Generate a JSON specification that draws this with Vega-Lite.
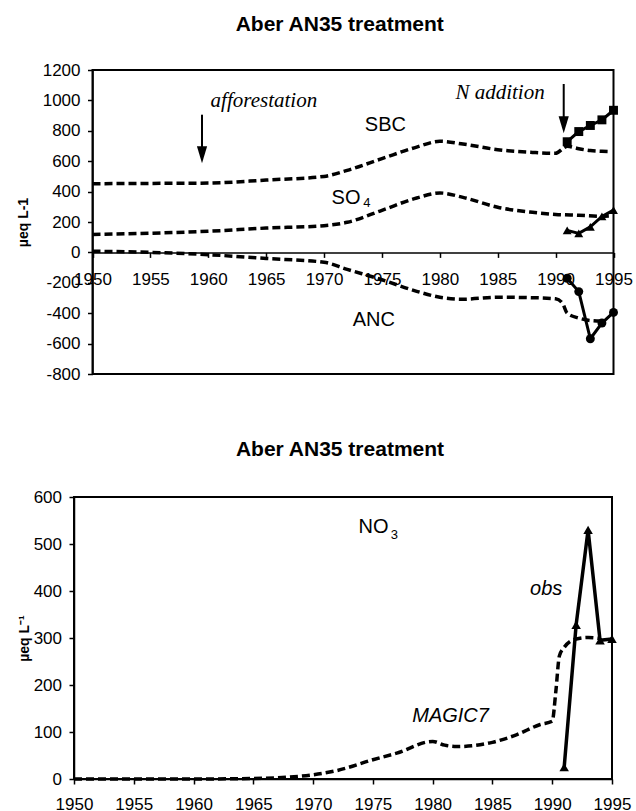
{
  "$schema": "https://vega.github.io/schema/vega-lite/v6.json",
  "background": "white",
  "padding": {"left": 16, "top": 14, "right": 4, "bottom": 4},
  "config": {
    "view": {"stroke": "black", "strokeWidth": 2},
    "axis": {
      "grid": false,
      "domainColor": "black",
      "domainWidth": 1.5,
      "tickColor": "black",
      "tickWidth": 1.5,
      "tickSize": 5,
      "labelColor": "black",
      "labelFont": "Liberation Sans",
      "labelFontSize": 17,
      "labelFlush": false,
      "labelOverlap": false,
      "titleFont": "Liberation Sans",
      "titleFontSize": 14,
      "titleFontWeight": "bold",
      "titleColor": "black"
    },
    "title": {"font": "Liberation Sans", "fontSize": 21, "fontWeight": "bold", "color": "black", "anchor": "middle"}
  },
  "datasets": {
    "top_model": [
      {"series": "SBC", "year": 1950, "value": 452}, {"series": "SBC", "year": 1955, "value": 454},
      {"series": "SBC", "year": 1960, "value": 456}, {"series": "SBC", "year": 1965, "value": 476},
      {"series": "SBC", "year": 1970, "value": 500}, {"series": "SBC", "year": 1972, "value": 540},
      {"series": "SBC", "year": 1975, "value": 617}, {"series": "SBC", "year": 1978, "value": 693},
      {"series": "SBC", "year": 1980, "value": 731}, {"series": "SBC", "year": 1982, "value": 713},
      {"series": "SBC", "year": 1985, "value": 676}, {"series": "SBC", "year": 1988, "value": 658},
      {"series": "SBC", "year": 1990, "value": 652}, {"series": "SBC", "year": 1990.7, "value": 687},
      {"series": "SBC", "year": 1991, "value": 698}, {"series": "SBC", "year": 1992, "value": 682},
      {"series": "SBC", "year": 1993, "value": 670}, {"series": "SBC", "year": 1994, "value": 665},
      {"series": "SBC", "year": 1994.7, "value": 663},
      {"series": "SO4", "year": 1950, "value": 118}, {"series": "SO4", "year": 1955, "value": 126},
      {"series": "SO4", "year": 1960, "value": 139}, {"series": "SO4", "year": 1965, "value": 160},
      {"series": "SO4", "year": 1970, "value": 176}, {"series": "SO4", "year": 1972, "value": 198},
      {"series": "SO4", "year": 1975, "value": 277}, {"series": "SO4", "year": 1978, "value": 358},
      {"series": "SO4", "year": 1980, "value": 391}, {"series": "SO4", "year": 1982, "value": 362},
      {"series": "SO4", "year": 1985, "value": 297}, {"series": "SO4", "year": 1988, "value": 264},
      {"series": "SO4", "year": 1990, "value": 250}, {"series": "SO4", "year": 1992, "value": 244},
      {"series": "SO4", "year": 1994, "value": 238}, {"series": "SO4", "year": 1994.6, "value": 240},
      {"series": "ANC", "year": 1950, "value": 8}, {"series": "ANC", "year": 1955, "value": 0},
      {"series": "ANC", "year": 1960, "value": -15}, {"series": "ANC", "year": 1965, "value": -40},
      {"series": "ANC", "year": 1970, "value": -65}, {"series": "ANC", "year": 1972, "value": -112},
      {"series": "ANC", "year": 1975, "value": -180}, {"series": "ANC", "year": 1978, "value": -256},
      {"series": "ANC", "year": 1980, "value": -295}, {"series": "ANC", "year": 1982, "value": -308},
      {"series": "ANC", "year": 1985, "value": -295}, {"series": "ANC", "year": 1988, "value": -298},
      {"series": "ANC", "year": 1990, "value": -305}, {"series": "ANC", "year": 1990.6, "value": -335},
      {"series": "ANC", "year": 1991, "value": -400}, {"series": "ANC", "year": 1992, "value": -432},
      {"series": "ANC", "year": 1993, "value": -448}, {"series": "ANC", "year": 1994, "value": -452}
    ],
    "top_obs": [
      {"series": "SBC", "year": 1991, "value": 728}, {"series": "SBC", "year": 1992, "value": 795},
      {"series": "SBC", "year": 1993, "value": 835}, {"series": "SBC", "year": 1994, "value": 872},
      {"series": "SBC", "year": 1995, "value": 935},
      {"series": "SO4", "year": 1991, "value": 145}, {"series": "SO4", "year": 1992, "value": 125},
      {"series": "SO4", "year": 1993, "value": 168}, {"series": "SO4", "year": 1994, "value": 237},
      {"series": "SO4", "year": 1995, "value": 278},
      {"series": "ANC", "year": 1991, "value": -170}, {"series": "ANC", "year": 1992, "value": -258},
      {"series": "ANC", "year": 1993, "value": -568}, {"series": "ANC", "year": 1994, "value": -465},
      {"series": "ANC", "year": 1995, "value": -395}
    ],
    "top_frame": [
      {"year": 1950, "year2": 1995, "value": -800, "value2": 1200}
    ],
    "top_arrows": [
      {"label": "afforestation", "year": 1959.46, "value": 906, "value2": 643},
      {"label": "N addition", "year": 1990.7, "value": 1108, "value2": 840}
    ],
    "top_heads": [
      {"label": "afforestation", "year": 1959.46, "value": 643},
      {"label": "N addition", "year": 1990.7, "value": 840}
    ],
    "top_labels": [
      {"label": "SBC", "year": 1975.3, "value": 835},
      {"label": "SO", "year": 1971.9, "value": 358},
      {"label": "ANC", "year": 1974.3, "value": -443}
    ],
    "top_sub": [
      {"label": "4", "year": 1973.7, "value": 325}
    ],
    "top_notes": [
      {"label": "afforestation", "year": 1964.8, "value": 994},
      {"label": "N addition", "year": 1985.2, "value": 1049}
    ],
    "bot_model": [
      {"year": 1950, "value": 0}, {"year": 1955, "value": 0}, {"year": 1960, "value": 0},
      {"year": 1965, "value": 1}, {"year": 1968, "value": 4}, {"year": 1970, "value": 9},
      {"year": 1972, "value": 18}, {"year": 1975, "value": 41}, {"year": 1977, "value": 55},
      {"year": 1980, "value": 80}, {"year": 1981, "value": 72}, {"year": 1982, "value": 69},
      {"year": 1985, "value": 78}, {"year": 1987, "value": 94}, {"year": 1989, "value": 116},
      {"year": 1990, "value": 123}, {"year": 1990.3, "value": 186}, {"year": 1990.6, "value": 262},
      {"year": 1991, "value": 280}, {"year": 1992, "value": 298}, {"year": 1993, "value": 301},
      {"year": 1994, "value": 299}
    ],
    "bot_obs": [
      {"year": 1991, "value": 25}, {"year": 1992, "value": 328}, {"year": 1993, "value": 530},
      {"year": 1994, "value": 295}, {"year": 1995, "value": 298}
    ],
    "bot_labels": [
      {"label": "NO", "year": 1975.06, "value": 536}
    ],
    "bot_sub": [
      {"label": "3", "year": 1976.8, "value": 520}
    ],
    "bot_notes": [
      {"label": "obs", "year": 1989.5, "value": 405},
      {"label": "MAGIC7", "year": 1981.5, "value": 135}
    ]
  },
  "spacing": 55,
  "vconcat": [
    {
      "width": 539.5,
      "height": 304,
      "view": {"stroke": null},
      "title": {"text": "Aber AN35 treatment", "dx": -4, "offset": 26},
      "encoding": {
        "x": {
          "field": "year", "type": "quantitative",
          "scale": {"domain": [1950, 1995], "nice": false, "zero": false, "range": [18.5, 539.5]},
          "axis": {"title": null, "values": [1950, 1955, 1960, 1965, 1970, 1975, 1980, 1985, 1990, 1995], "format": "d", "offset": -121.6, "labelPadding": 14}
        },
        "y": {
          "field": "value", "type": "quantitative",
          "scale": {"domain": [-800, 1200], "nice": false, "zero": false},
          "axis": {"title": "µeq L-1", "values": [-800, -600, -400, -200, 0, 200, 400, 600, 800, 1000, 1200], "labelExpr": "datum.value < 0 ? '-' + abs(datum.value) : '' + datum.value", "offset": -18.5, "labelPadding": 7.5, "titlePadding": 12}
        }
      },
      "layer": [
        {
          "data": {"name": "top_frame"},
          "mark": {"type": "rect", "filled": false, "stroke": "black", "strokeWidth": 2},
          "encoding": {"x2": {"field": "year2"}, "y2": {"field": "value2"}}
        },
        {
          "data": {"name": "top_model"},
          "mark": {"type": "line", "color": "black", "strokeWidth": 3.5, "strokeDash": [8, 4], "interpolate": "monotone"},
          "encoding": {"detail": {"field": "series"}}
        },
        {
          "data": {"name": "top_obs"},
          "mark": {"type": "line", "color": "black", "strokeWidth": 3},
          "encoding": {"detail": {"field": "series"}}
        },
        {
          "data": {"name": "top_obs"},
          "mark": {"type": "point", "filled": true, "color": "black", "opacity": 1, "size": 80},
          "encoding": {
            "shape": {"field": "series", "type": "nominal", "scale": {"domain": ["SBC", "SO4", "ANC"], "range": ["square", "triangle-up", "circle"]}, "legend": null}
          }
        },
        {
          "data": {"name": "top_arrows"},
          "mark": {"type": "rule", "color": "black", "strokeWidth": 2},
          "encoding": {"y2": {"field": "value2"}}
        },
        {
          "data": {"name": "top_heads"},
          "mark": {"type": "point", "filled": true, "color": "black", "opacity": 1, "size": 289, "shape": "M-0.6,-1L0.6,-1L0,1Z"},
          "encoding": {}
        },
        {
          "data": {"name": "top_labels"},
          "mark": {"type": "text", "font": "Liberation Sans", "fontSize": 20, "color": "black", "align": "center", "baseline": "middle"},
          "encoding": {"text": {"field": "label"}}
        },
        {
          "data": {"name": "top_sub"},
          "mark": {"type": "text", "font": "Liberation Sans", "fontSize": 13, "color": "black", "align": "center", "baseline": "middle"},
          "encoding": {"text": {"field": "label"}}
        },
        {
          "data": {"name": "top_notes"},
          "mark": {"type": "text", "font": "Liberation Serif", "fontStyle": "italic", "fontSize": 21, "color": "black", "align": "center", "baseline": "middle"},
          "encoding": {"text": {"field": "label"}}
        }
      ]
    },
    {
      "width": 538,
      "height": 282,
      "title": {"text": "Aber AN35 treatment", "dx": -3, "offset": 28.5},
      "encoding": {
        "x": {
          "field": "year", "type": "quantitative",
          "scale": {"domain": [1950, 1995], "nice": false, "zero": false},
          "axis": {"title": null, "values": [1950, 1955, 1960, 1965, 1970, 1975, 1980, 1985, 1990, 1995], "format": "d", "labelPadding": 12}
        },
        "y": {
          "field": "value", "type": "quantitative",
          "scale": {"domain": [0, 600], "nice": false},
          "axis": {"title": "µeq L⁻¹", "values": [0, 100, 200, 300, 400, 500, 600], "format": "d", "labelPadding": 7.5, "titlePadding": 2}
        }
      },
      "layer": [
        {
          "data": {"name": "bot_model"},
          "mark": {"type": "line", "color": "black", "strokeWidth": 3.5, "strokeDash": [8, 4], "interpolate": "monotone"},
          "encoding": {}
        },
        {
          "data": {"name": "bot_obs"},
          "mark": {"type": "line", "color": "black", "strokeWidth": 3.5},
          "encoding": {}
        },
        {
          "data": {"name": "bot_obs"},
          "mark": {"type": "point", "filled": true, "color": "black", "opacity": 1, "size": 90, "shape": "triangle-up"},
          "encoding": {}
        },
        {
          "data": {"name": "bot_labels"},
          "mark": {"type": "text", "font": "Liberation Sans", "fontSize": 20, "color": "black", "align": "center", "baseline": "middle"},
          "encoding": {"text": {"field": "label"}}
        },
        {
          "data": {"name": "bot_sub"},
          "mark": {"type": "text", "font": "Liberation Sans", "fontSize": 13, "color": "black", "align": "center", "baseline": "middle"},
          "encoding": {"text": {"field": "label"}}
        },
        {
          "data": {"name": "bot_notes"},
          "mark": {"type": "text", "font": "Liberation Sans", "fontStyle": "italic", "fontSize": 20, "color": "black", "align": "center", "baseline": "middle"},
          "encoding": {"text": {"field": "label"}}
        }
      ]
    }
  ]
}
